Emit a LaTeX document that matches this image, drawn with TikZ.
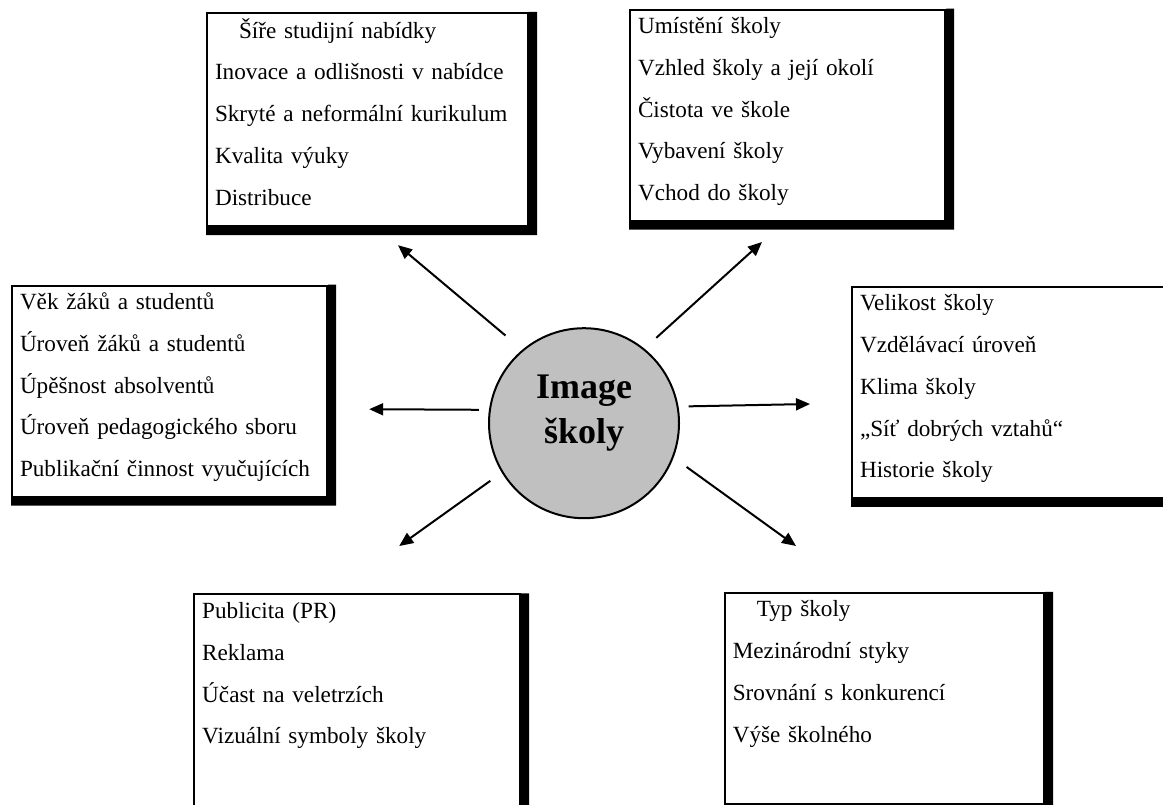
\documentclass[tikz,border=0pt]{standalone}
\usepackage{fontspec}
\setmainfont{Liberation Serif}
\usetikzlibrary{arrows.meta}
\definecolor{kruh}{RGB}{192,192,192}
\tikzset{
	listbox/.style={draw, line width=0.05cm, inner xsep=0.2cm, inner ysep=0cm, align=left,
		font=\fontsize{16.5}{29.7}\selectfont,
		execute at begin node={\hyphenpenalty 10000\relax\rule{0pt}{0.6cm}},
		execute at end node={\rule[-0.5cm]{0pt}{0.5cm}}},
	arr/.style={-{Triangle[length=0.35cm,width=0.3cm]}, line width=0.05cm, shorten <=0.4cm}
}
\newcommand{\band}{0.2cm}

\begin{document}
\begin{tikzpicture}
		\useasboundingbox (0,0) rectangle (29.075,-20.125);
		\draw[color=black]
		node[listbox,text width=7.63cm,minimum height=5.33cm] (studium) at (9.19, -2.99){\hspace*{0.6cm}Šíře studijní nabídky\\Inovace a odlišnosti v nabídce\\Skryté a neformální kurikulum\\Kvalita výuky\\Distribuce}
		node[listbox,text width=7.48cm,minimum height=5.2cm] (prostredi) at (19.69, -2.88){Umístění školy\\Vzhled školy a její okolí\\Čistota ve škole\\Vybavení školy\\Vchod do školy}
		node[listbox,text width=7.48cm,minimum height=5.2cm] (lide) at (4.24, -9.78){Věk žáků a studentů\\Úroveň žáků a studentů\\Úpěšnost absolventů\\Úroveň pedagogického sboru\\Publikační činnost vyučujících}
		node[listbox,text width=7.6cm,minimum height=5.23cm] (profil) at (25.3, -9.81){Velikost školy\\Vzdělávací úroveň\\Klima školy\\„Síť dobrých vztahů“\\Historie školy}
		node[listbox,text width=7.75cm,minimum height=5.1cm] (komunikace) at (8.93, -17.5){Publicita (PR)\\Reklama\\Účast na veletrzích\\Vizuální symboly školy\\~}
		node[listbox,text width=7.58cm,minimum height=5.18cm] (typ) at (22.11, -17.46){\hspace*{0.6cm}Typ školy\\Mezinárodní styky\\Srovnání s konkurencí\\Výše školného\\~}
		node[circle,draw,fill=kruh,line width=0.05cm,minimum size=4.75cm] (img) at (14.6, -10.58){};
		% thick right and bottom edges
		\foreach \b in {studium,prostredi,lide,profil,komunikace,typ}
			\fill (\b.north east) rectangle ([xshift=\band,yshift=-\band]\b.south east)
			      (\b.south west) rectangle ([xshift=\band,yshift=-\band]\b.south east);
		\node[font=\bfseries\fontsize{25.6}{32.4}\selectfont,align=center] (imgtext) at ([yshift=0.25cm]img) {Image\\školy};
		\coordinate (p_studium) at (9.95, -6.13);
		\coordinate (p_prostredi) at (19.05, -6.05);
		\coordinate (p_lide) at (9.23, -10.23);
		\coordinate (p_profil) at (20.25, -10.1);
		\coordinate (p_komunikace) at (9.98, -13.65);
		\coordinate (p_typ) at (19.9, -13.65);
		\draw [arr, shorten <=0.55cm] (img.130) -- (p_studium);
		\draw [arr] (img.51) -- (p_prostredi);
		\draw [arr, shorten <=0.25cm] (img.172) -- (p_lide);
		\draw [arr, shorten <=0.25cm] (img.10) -- (p_profil);
		\draw [arr, shorten <=0.35cm] (img.211) -- (p_komunikace);
		\draw [arr] (img.339) -- (p_typ);
		\end{tikzpicture}
\end{document}
